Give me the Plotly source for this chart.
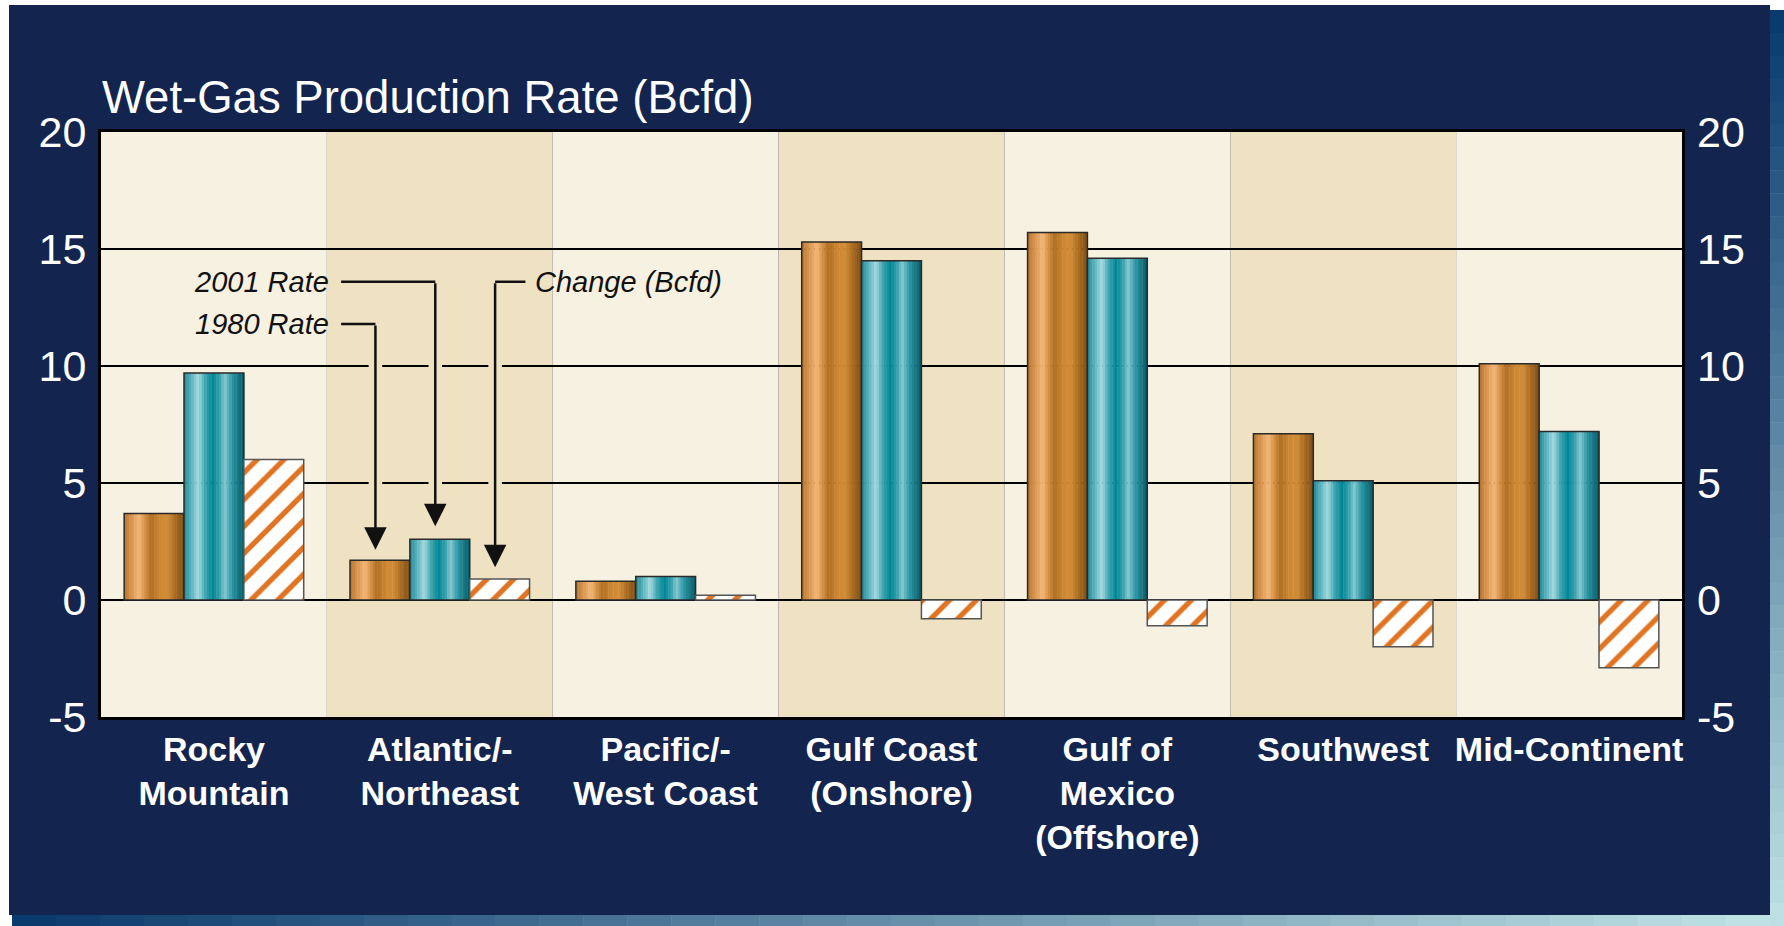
import plotly.graph_objects as go

# ---------------- data ----------------
categories = ["Rocky<br>Mountain", "Atlantic/-<br>Northeast", "Pacific/-<br>West Coast",
              "Gulf Coast<br>(Onshore)", "Gulf of<br>Mexico<br>(Offshore)", "Southwest",
              "Mid-Continent"]
rate_1980 = [3.7, 1.7, 0.8, 15.3, 15.7, 7.1, 10.1]
rate_2001 = [9.7, 2.6, 1.0, 14.5, 14.6, 5.1, 7.2]
change = [6.0, 0.9, 0.2, -0.8, -1.1, -2.0, -2.9]
y_ticks = [-5, 0, 5, 10, 15, 20]
y_tick_text = ["-5", "0", "5", "10", "15", "20"]

# ---------------- styling ----------------
W, H = 1784, 926
L, R, T, B = 101, 1682, 132, 717          # plot area in px
NAVY = "#13244F"
BAND_LIGHT = "#F7F1E1"
BAND_DARK = "#EFE2C3"
FONT = "Liberation Sans, Arial, sans-serif"


def hex2rgb(h):
    h = h.lstrip("#")
    return tuple(int(h[i:i + 2], 16) for i in (0, 2, 4))


def lerp(c1, c2, t):
    return "rgb(%d,%d,%d)" % tuple(round(a + (b - a) * t) for a, b in zip(c1, c2))


def gradient(stops, n):
    out = []
    for k in range(n):
        t = (k + 0.5) / n
        for (p0, c0), (p1, c1) in zip(stops[:-1], stops[1:]):
            if p0 <= t <= p1:
                out.append(lerp(hex2rgb(c0), hex2rgb(c1), (t - p0) / (p1 - p0)))
                break
    return out


copper = gradient([(0, "#B8742A"), (0.12, "#D99450"), (0.25, "#F3B878"), (0.36, "#D28C40"),
                   (0.45, "#B06E22"), (0.6, "#CE8834"), (0.72, "#D28C38"), (0.86, "#A86A20"),
                   (1.0, "#7A4E18")], 24)
teal = gradient([(0, "#1C8A98"), (0.12, "#5AB3BE"), (0.24, "#A5DAE0"), (0.36, "#3AA2AE"),
                 (0.48, "#008797"), (0.6, "#3AA2AE"), (0.68, "#86C8D0"), (0.8, "#2A97A5"),
                 (1.0, "#055A67")], 24)

bw = 0.265
offsets = [-1.5 * bw, -0.5 * bw, 0.5 * bw]

fig = go.Figure()


def striped(values, colors, base_off):
    n = len(colors)
    sw = bw / n
    for k, c in enumerate(colors):
        fig.add_trace(go.Bar(x=categories, y=values, width=sw * 1.15, offset=base_off + k * sw,
                             marker=dict(color=c, line=dict(width=0)),
                             showlegend=False, hoverinfo="skip"))
    fig.add_trace(go.Bar(x=categories, y=values, width=bw, offset=base_off,
                         marker=dict(color="rgba(0,0,0,0)", line=dict(color="#2a2a2a", width=1.5)),
                         showlegend=False, name=""))


striped(rate_1980, copper, offsets[0])
striped(rate_2001, teal, offsets[1])
fig.add_trace(go.Bar(x=categories, y=change, width=bw, offset=offsets[2],
                     marker=dict(color="white",
                                 pattern=dict(shape="/", fgcolor="#E07422", bgcolor="white",
                                              size=19, solidity=0.28, fillmode="replace"),
                                 line=dict(color="#555555", width=1.5)),
                     showlegend=False))

# invisible trace for right axis
fig.add_trace(go.Scatter(x=[categories[0]], y=[0], yaxis="y2", mode="markers",
                         marker=dict(opacity=0), showlegend=False, hoverinfo="skip"))


def px2x(px):
    return (px - L) / (R - L)


def py2y(py):
    return (B - py) / (B - T)


shapes = []
# navy panel and gradient borders (drawn first, lowest)
shapes.append(dict(type="rect", xref="paper", yref="paper", x0=px2x(9), x1=px2x(1770),
                   y0=py2y(915), y1=py2y(5), fillcolor=NAVY, line=dict(width=0), layer="below"))
N = 40
top_c, bot_c = (10, 58, 110), (188, 224, 226)
for k in range(N):
    y0p = 10 + (926 - 10) * k / N
    y1p = 10 + (926 - 10) * (k + 1) / N
    shapes.append(dict(type="rect", xref="paper", yref="paper", x0=px2x(1770), x1=px2x(1784),
                       y0=py2y(y1p + 0.5), y1=py2y(y0p), fillcolor=lerp(top_c, bot_c, k / (N - 1)),
                       line=dict(width=0), layer="below"))
left_c, right_c = (11, 58, 109), (190, 226, 228)
for k in range(N):
    x0p = 12 + (1770 - 12) * k / N
    x1p = 12 + (1770 - 12) * (k + 1) / N
    shapes.append(dict(type="rect", xref="paper", yref="paper", x0=px2x(x0p), x1=px2x(x1p + 0.5),
                       y0=py2y(926), y1=py2y(915), fillcolor=lerp(left_c, right_c, k / (N - 1)),
                       line=dict(width=0), layer="below"))

# alternating category bands
for i in range(len(categories)):
    shapes.append(dict(type="rect", xref="x", yref="paper", x0=i - 0.5, x1=i + 0.5, y0=0, y1=1,
                       fillcolor=BAND_LIGHT if i % 2 == 0 else BAND_DARK,
                       line=dict(width=0), layer="below"))

# callout arrows (legend labels)
ANN_FONT = dict(family=FONT, size=29, color="#111111")
annotations = []
x_2001 = 1 - 0.02
x_1980 = 1 - bw - 0.02
x_chg = 1 + bw - 0.02
y_2001, y_1980, y_chg = 13.6, 11.8, 13.6
text_end = 0.52
line_start = 0.563

callouts = [
    ("2001 Rate", x_2001, y_2001, rate_2001[1] + 0.55, line_start, "right", text_end),
    ("1980 Rate", x_1980, y_1980, rate_1980[1] + 0.45, line_start, "right", text_end),
    ("Change (Bcfd)", x_chg, y_chg, change[1] + 0.5, 1.379, "left", 1.414),
]
for label, xv, yt, tip, xh, anchor, xt in callouts:
    shapes.append(dict(type="line", xref="x", yref="y", x0=xh, x1=xv, y0=yt, y1=yt,
                       line=dict(color="#111111", width=2.5), layer="above"))
    annotations.append(dict(x=xv, y=tip, ax=xv, ay=yt, xref="x", yref="y", axref="x", ayref="y",
                            text="", showarrow=True, arrowhead=2, arrowsize=1.8, arrowwidth=2.5,
                            arrowcolor="#111111", standoff=0, startstandoff=0))
    annotations.append(dict(x=xt, y=yt, xref="x", yref="y", text="<i>%s</i>" % label,
                            showarrow=False, xanchor=anchor, yanchor="middle", font=ANN_FONT))

# gaps in gridlines where callout lines cross
for xv in [x_2001, x_1980, x_chg]:
    for gy in [5, 10]:
        shapes.append(dict(type="rect", xref="x", yref="y", x0=xv - 0.03, x1=xv + 0.03,
                           y0=gy - 0.15, y1=gy + 0.15, fillcolor=BAND_DARK,
                           line=dict(width=0), layer="between"))

# title
annotations.append(dict(x=px2x(100), y=py2y(97), xref="paper", yref="paper", xanchor="left",
                        yanchor="middle", showarrow=False,
                        text="Wet-Gas Production Rate (Bcfd)",
                        font=dict(family=FONT, size=45.5, color="white")))

fig.update_layout(
    width=W, height=H,
    margin=dict(l=L, r=W - R, t=T, b=H - B),
    paper_bgcolor="white", plot_bgcolor=BAND_LIGHT,
    barmode="overlay", showlegend=False,
    shapes=shapes, annotations=annotations,
    xaxis=dict(type="category", range=[-0.5, len(categories) - 0.5], showgrid=False,
               showline=True, linecolor="black", linewidth=3, mirror=True,
               ticks="", ticklabelstandoff=0,
               tickfont=dict(family=FONT, size=34, color="white", weight="bold")),
    yaxis=dict(range=[-5, 20], tickvals=y_ticks, ticktext=y_tick_text, showgrid=True,
               gridcolor="black", gridwidth=2, zeroline=True, zerolinecolor="black",
               zerolinewidth=2, showline=True, linecolor="black", linewidth=3, mirror=True,
               ticks="", ticklabelstandoff=3,
               tickfont=dict(family=FONT, size=43, color="white")),
    yaxis2=dict(range=[-5, 20], tickvals=y_ticks, ticktext=y_tick_text, overlaying="y",
                side="right", showgrid=False, zeroline=False, showline=False, ticks="",
                ticklabelstandoff=14,
                tickfont=dict(family=FONT, size=43, color="white")),
)

fig.write_html("out.html", config={"displayModeBar": False},
               post_script="document.body.style.margin='0';document.body.style.overflow='hidden';")
